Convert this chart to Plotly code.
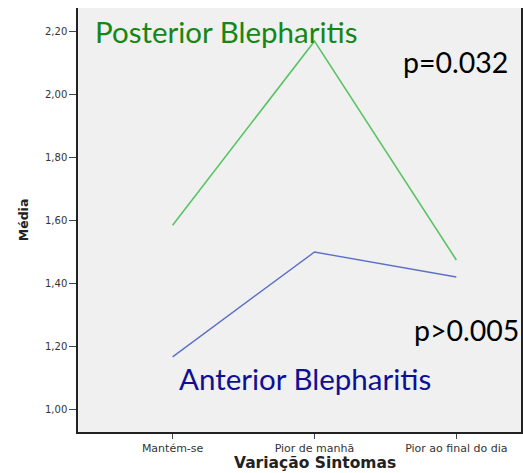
import plotly.graph_objects as go

categories = ["Mantém-se", "Pior de manhã", "Pior ao final do dia"]
posterior = [1.585, 2.168, 1.475]
anterior = [1.168, 1.500, 1.421]
ytick_vals = [1.0, 1.2, 1.4, 1.6, 1.8, 2.0, 2.2]
ytick_text = ["1,00", "1,20", "1,40", "1,60", "1,80", "2,00", "2,20"]

W, H = 523, 473
L, T, B, R = 78, 8, 41, 0
pw, ph = W - L - R, H - T - B

def px(x):
    return (x - L) / pw

def py(y):
    return 1 - (y - T) / ph

fig = go.Figure()
fig.add_trace(go.Scatter(x=[0, 1, 2], y=posterior, mode="lines",
                         line=dict(color="rgb(88,196,100)", width=1.6), hoverinfo="skip"))
fig.add_trace(go.Scatter(x=[0, 1, 2], y=anterior, mode="lines",
                         line=dict(color="rgb(92,112,200)", width=1.4), hoverinfo="skip"))

fig.update_xaxes(range=[-0.667, 2.456], tickmode="array", tickvals=[0, 1, 2],
                 ticktext=categories, ticks="outside", ticklen=5, tickcolor="#444",
                 showgrid=False, zeroline=False, showline=True, linecolor="#222",
                 linewidth=1.5,
                 tickfont=dict(family="DejaVu Sans", size=11, color="#333333"))
fig.update_yaxes(range=[0.930, 2.273], tickmode="array", tickvals=ytick_vals,
                 ticktext=ytick_text, ticks="outside", ticklen=7, tickcolor="#444",
                 showgrid=False, zeroline=False, showline=True, linecolor="#222",
                 linewidth=1.5, mirror=True,
                 tickfont=dict(family="DejaVu Sans", size=10, color="#333333"))

ann = [
    dict(text="Posterior Blepharitis", x=px(93), y=py(32), xanchor="left", yanchor="middle",
         font=dict(family="Lato", size=29.5, color="rgb(20,135,20)")),
    dict(text="p=0.032", x=px(402), y=py(62), xanchor="left", yanchor="middle",
         font=dict(family="Lato", size=28.5, color="black")),
    dict(text="p>0.005", x=px(523), y=py(330), xanchor="right", yanchor="middle",
         font=dict(family="Lato", size=28.5, color="black")),
    dict(text="Anterior Blepharitis", x=px(177), y=py(378), xanchor="left", yanchor="middle",
         font=dict(family="Lato", size=29.5, color="rgb(15,15,150)")),
    dict(text="<b>Média</b>", x=px(23), y=py(220), xanchor="center", yanchor="middle",
         textangle=-90, font=dict(family="DejaVu Sans", size=12.5, color="#222")),
    dict(text="<b>Variação Sintomas</b>", x=px(316), y=py(463), xanchor="center", yanchor="middle",
         font=dict(family="DejaVu Sans", size=15.5, color="#222")),
]
for a in ann:
    a.update(xref="paper", yref="paper", showarrow=False)
fig.update_layout(width=W, height=H, margin=dict(l=L, r=R, t=T, b=B, pad=0),
                  paper_bgcolor="white", plot_bgcolor="#f0f0f0", showlegend=False,
                  annotations=ann)
fig.write_html("out.html", config={"displayModeBar": False},
               post_script="document.body.style.margin='0';document.body.style.overflow='hidden';")
